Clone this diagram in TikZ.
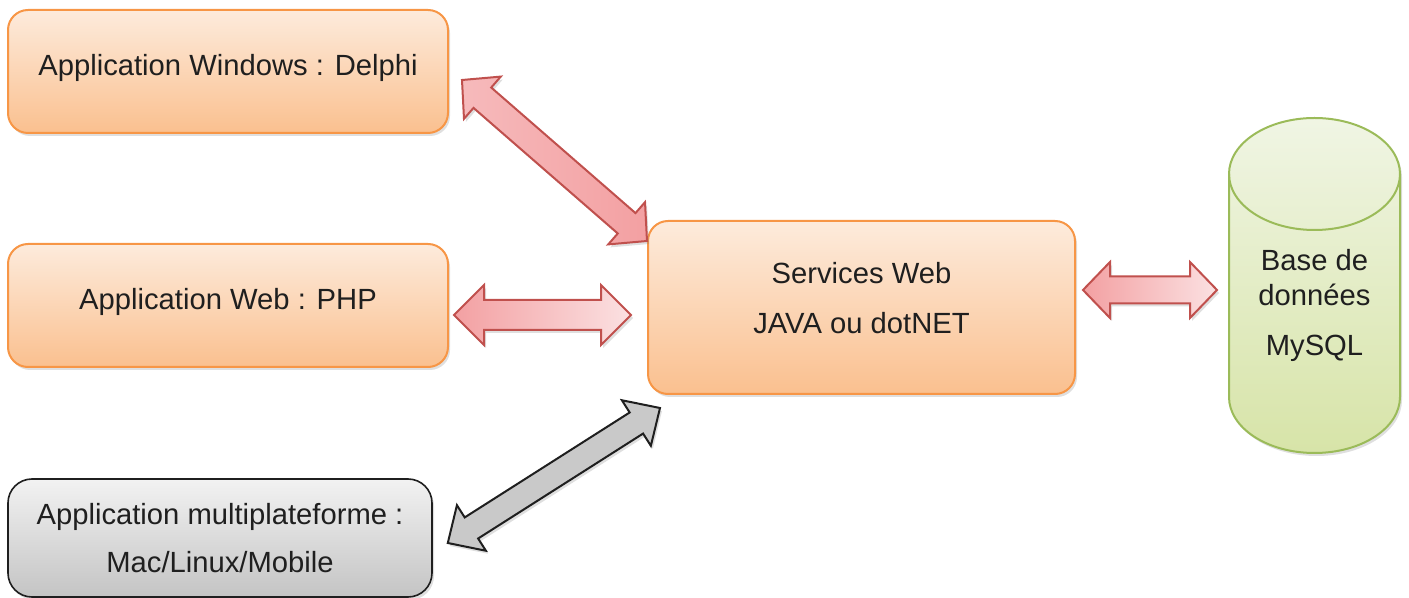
\documentclass[tikz,border=0pt]{standalone}
\usepackage{fontspec}
\setmainfont{Liberation Sans}
\usepackage{tikz}
\usetikzlibrary{calc,shadows}

\definecolor{textgray}{HTML}{1F1F1F}
\definecolor{boxline}{HTML}{F79646}
\definecolor{boxtop}{HTML}{FDEBDC}
\definecolor{boxbot}{HTML}{FAC08F}
\definecolor{graytop}{HTML}{F2F2F2}
\definecolor{graybot}{HTML}{C4C4C4}
\definecolor{redline}{HTML}{C0504D}
\definecolor{pinkdark}{HTML}{F3A0A2}
\definecolor{pinklight}{HTML}{FBE1E2}
\definecolor{dbtop}{HTML}{F0F5E4}
\definecolor{dbbot}{HTML}{D7E4A8}
\definecolor{dbline}{HTML}{9BBB59}

% #1 style, #2 from, #3 to, #4 head length, #5 half head width, #6 half shaft width
\newcommand{\fatarrow}[6]{%
  \draw[#1] (#2) -- ($(#2)!#4!(#3)!#5!90:(#3)$) -- ($(#2)!#4!(#3)!#6!90:(#3)$)
    -- ($(#3)!#4!(#2)!#6!-90:(#2)$) -- ($(#3)!#4!(#2)!#5!-90:(#2)$) -- (#3)
    -- ($(#3)!#4!(#2)!#5!90:(#2)$) -- ($(#3)!#4!(#2)!#6!90:(#2)$)
    -- ($(#2)!#4!(#3)!#6!-90:(#3)$) -- ($(#2)!#4!(#3)!#5!-90:(#3)$) -- cycle;}

\begin{document}
\begin{tikzpicture}[x=0.5pt,y=0.5pt]
            \tikzstyle{txt}=[font=\fontsize{14.6}{17.5}\selectfont,text=textgray,align=center]
            \tikzstyle{softshadow}=[drop shadow={opacity=0.25,shadow xshift=1pt,shadow yshift=-1.5pt}]
            \tikzstyle{orangebox}=[txt,rectangle,rounded corners=10pt,draw=boxline,line width=1pt,top color=boxtop,bottom color=boxbot,softshadow,minimum width=220pt,minimum height=61.5pt,text depth=7pt]
            \tikzstyle{graybox}=[txt,rectangle,rounded corners=12pt,draw=textgray,line width=0.8pt,top color=graytop,bottom color=graybot,softshadow,minimum width=212pt,minimum height=59pt]
            \tikzstyle{redarrow}=[draw=redline,line width=1pt,left color=pinkdark,right color=pinklight,softshadow]
            \tikzstyle{pinkarrow}=[draw=redline,line width=1pt,left color=pinklight!40!pinkdark,right color=pinkdark,softshadow]
            \tikzstyle{grayarrow}=[draw=textgray,line width=1pt,fill=black!21,softshadow]
            \useasboundingbox (0,0) rectangle (1409,-598);

                    \node[orangebox] (app-win) at (228,-71.5){Application Windows : Delphi};
                    \node[orangebox] (app-web) at (228,-305.5){Application Web : PHP};
                    \node[graybox] (app-multi) at (220,-538){Application multiplateforme :\\[6.5pt]Mac/Linux/Mobile};
                    \node[orangebox,minimum width=213.5pt,minimum height=86.5pt,text depth=10pt] (svc) at (861.5,-307.5){Services Web\\[7.5pt]JAVA ou dotNET};

                    % database cylinder
                    \node[inner sep=0pt,outer sep=0pt,minimum width=85.5pt,minimum height=111.5pt] (db) at (1314.5,-285.5){};
                    \draw[draw=dbline,line width=1pt,top color=dbtop,bottom color=dbbot,softshadow] (db.north west) -- (db.south west)
                        arc[start angle=180,end angle=360,x radius=42.75pt,y radius=28pt] -- (db.north east)
                        arc[start angle=0,end angle=180,x radius=42.75pt,y radius=28pt] -- cycle;
                    \draw[dbline,line width=1pt] (db.north west) arc[start angle=180,end angle=360,x radius=42.75pt,y radius=28pt];
                    \node[txt] (db-label) at (1314.5,-305){Base de\\données\\[7.5pt]MySQL};

                    \coordinate (win-end) at ($(app-win.east)+(13,-8.5)$);
                    \coordinate (svc-nw) at ($(svc.north west)+(0,-21)$);
                    \coordinate (web-end) at ($(app-web.east)+(5,-9.5)$);
                    \coordinate (svc-w) at ($(svc.west)+(-16,-7.5)$);
                    \coordinate (svc-e) at ($(svc.east)+(7,17.5)$);
                    \coordinate (db-w) at ($(db.west)+(-12,-4.5)$);
                    \coordinate (multi-end) at ($(app-multi.east)+(15,-5)$);
                    \coordinate (svc-sw) at ($(svc.south west)+(13,-13)$);

                \fatarrow{pinkarrow}{win-end}{svc-nw}{13.5pt}{14pt}{6.75pt}
                \fatarrow{redarrow}{web-end}{svc-w}{15pt}{15pt}{7.5pt}
                \fatarrow{redarrow}{svc-e}{db-w}{13.5pt}{14pt}{6.75pt}
                \fatarrow{grayarrow}{multi-end}{svc-sw}{14pt}{13.5pt}{6.25pt}
        \end{tikzpicture}
\end{document}
